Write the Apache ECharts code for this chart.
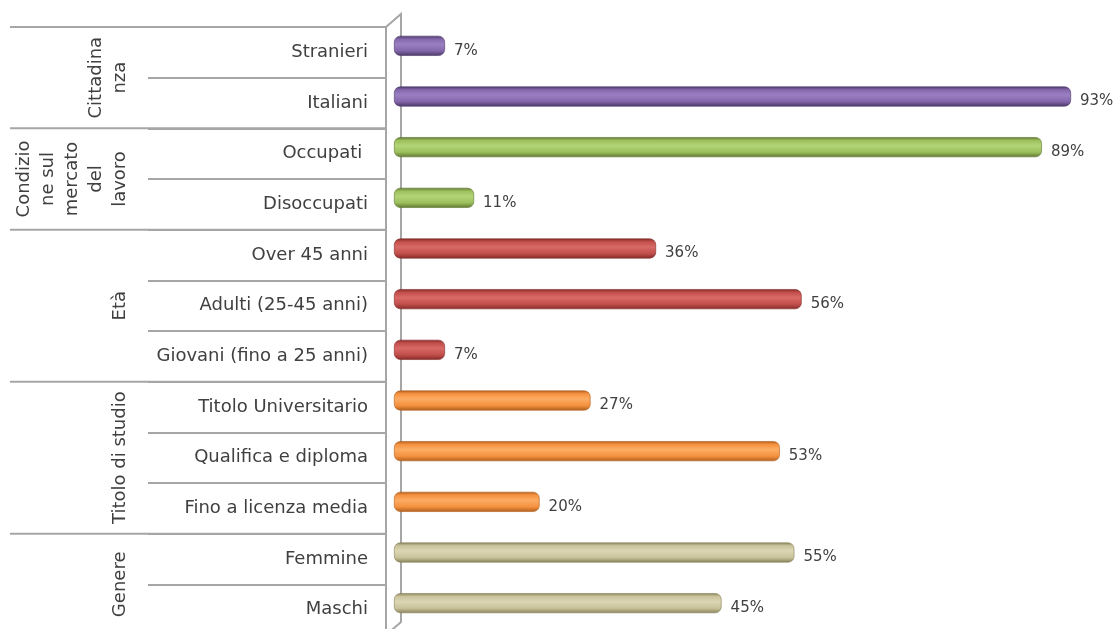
<!DOCTYPE html>
<html>
<head>
<meta charset="utf-8">
<script src="https://cdn.jsdelivr.net/npm/echarts@6/dist/echarts.min.js"></script>
<style>
  html, body { margin: 0; padding: 0; background: #fff; }
  #chart { width: 1116px; height: 629px; }
</style>
</head>
<body>
<div id="chart"></div>
<script>
// dati (dall'alto verso il basso)
var categories = ['Stranieri', 'Italiani', 'Occupati ', 'Disoccupati', 'Over 45 anni',
  'Adulti (25-45 anni)', 'Giovani (fino a 25 anni)', 'Titolo Universitario',
  'Qualifica e diploma', 'Fino a licenza media', 'Femmine', 'Maschi']
var values = [7, 93, 89, 11, 36, 56, 7, 27, 53, 20, 55, 45]
var groupNames = ['Cittadina\nnza', 'Condizio\nne sul\nmercato\ndel\nlavoro', 'Età', 'Titolo di studio', 'Genere']
var groupSizes = [2, 2, 3, 3, 2]
// colori per gruppo: [scuro, base, chiaro]
var groupColors = [
  ['#4a3866', '#8467ab', '#9a80c2'],
  ['#5e7631', '#9cbf5c', '#b3d477'],
  ['#832b29', '#c24e4b', '#d86a66'],
  ['#b05e1c', '#f4913f', '#fcac63'],
  ['#878159', '#c9c29b', '#dcd6b4']
]

var font = "'DejaVu Sans', sans-serif"
var lineColor = '#a6a6a6'

// gruppo di ogni categoria + confini dei gruppi
var catGroup = []
var boundaries = [0]
var centers = []
groupSizes.forEach(function (n, g) {
  var start = boundaries[boundaries.length - 1]
  for (var i = 0; i < n; i++) catGroup.push(g)
  centers.push([1, start + n / 2])
  boundaries.push(start + n)
})

function cylinder(c) {
  return new echarts.graphic.LinearGradient(0, 0, 0, 1, [
    { offset: 0, color: c[0] },
    { offset: 0.16, color: c[1] },
    { offset: 0.42, color: c[2] },
    { offset: 0.75, color: c[1] },
    { offset: 1, color: c[0] }
  ])
}

var barData = values.map(function (v, i) {
  var c = groupColors[catGroup[i]]
  return {
    value: v,
    itemStyle: { color: cylinder(c), borderRadius: 6, borderColor: c[0], borderWidth: 0.6 }
  }
})

var chart = echarts.init(document.getElementById('chart'))
chart.setOption({
  animation: false,
  grid: [
    { left: 394, top: 20.5, width: 713.4, height: 608, outerBoundsMode: 'none' },
    { left: 148, top: 27, width: 238, height: 608, outerBoundsMode: 'none' },
    { left: 10, top: 27, width: 376, height: 608, outerBoundsMode: 'none' },
    { left: 10, top: 27, width: 122, height: 608, outerBoundsMode: 'none' }
  ],
  xAxis: [
    { gridIndex: 0, type: 'value', min: 0, max: 98, show: false },
    { gridIndex: 1, type: 'value', min: 0, max: 1, show: false },
    { gridIndex: 2, type: 'value', min: 0, max: 1, show: false },
    { gridIndex: 3, type: 'value', min: 0, max: 1, show: false }
  ],
  yAxis: [
    { gridIndex: 0, type: 'category', data: categories, inverse: true, show: false },
    {
      gridIndex: 1,
      type: 'category',
      data: categories,
      inverse: true,
      position: 'right',
      axisLine: { show: true, onZero: false, lineStyle: { color: lineColor, width: 2 } },
      axisTick: { show: false },
      axisLabel: { inside: true, margin: 18, color: '#404040', fontSize: 18, fontFamily: font },
      splitLine: { show: true, lineStyle: { color: lineColor, width: 2 } }
    },
    { gridIndex: 2, type: 'value', min: 0, max: 12, inverse: true, show: false },
    { gridIndex: 3, type: 'value', min: 0, max: 12, inverse: true, show: false }
  ],
  graphic: [
    {
      // parete laterale (spigolo posteriore)
      type: 'polyline',
      shape: { points: [[386, 27], [401, 14], [401, 622], [386, 635]] },
      style: { stroke: lineColor, lineWidth: 2, fill: null }
    }
  ],
  series: [
    {
      type: 'bar',
      xAxisIndex: 0,
      yAxisIndex: 0,
      barWidth: 20,
      data: barData,
      label: {
        show: true,
        position: 'right',
        distance: 9,
        offset: [0, 5],
        formatter: '{c}%',
        color: '#404040',
        fontSize: 15,
        fontFamily: font
      }
    },
    {
      // linee di separazione fra gruppi
      type: 'custom',
      xAxisIndex: 2,
      yAxisIndex: 2,
      data: boundaries,
      renderItem: function (params, api) {
        var b = api.value(0)
        var p1 = api.coord([0, b])
        var p2 = api.coord([1, b])
        return {
          type: 'line',
          shape: { x1: p1[0], y1: p1[1], x2: p2[0], y2: p2[1] },
          style: { stroke: lineColor, lineWidth: 2 }
        }
      },
      encode: { y: 0 }
    },
    {
      // etichette dei gruppi, ruotate
      type: 'custom',
      xAxisIndex: 3,
      yAxisIndex: 3,
      data: centers,
      renderItem: function (params, api) {
        var p = api.coord([api.value(0), api.value(1)])
        return {
          type: 'text',
          x: p[0],
          y: p[1],
          rotation: Math.PI / 2,
          style: {
            text: groupNames[params.dataIndex],
            fill: '#404040',
            fontSize: 18,
            fontFamily: font,
            lineHeight: 24,
            align: 'center',
            verticalAlign: 'bottom'
          }
        }
      }
    }
  ]
})
</script>
</body>
</html>
